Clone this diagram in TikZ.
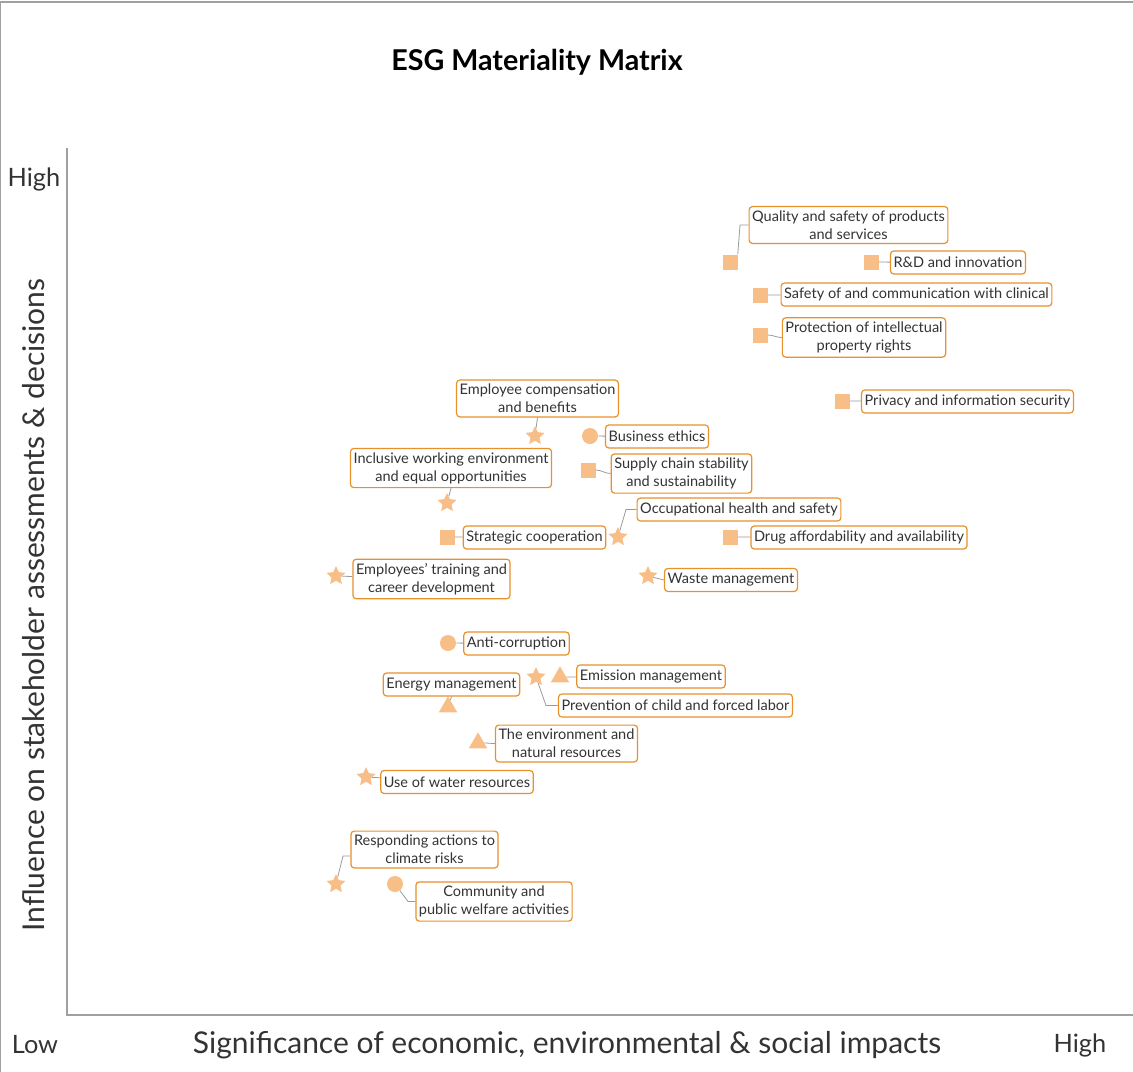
\documentclass[tikz,border=0pt]{standalone}
\usepackage{fontspec}
\setmainfont{Lato}
\usetikzlibrary{shapes.geometric}
\definecolor{markfill}{HTML}{F8BE87}
\definecolor{boxedge}{HTML}{E8912A}
\definecolor{linkgrey}{HTML}{9A9A9A}
\definecolor{axisgrey}{HTML}{A0A0A0}
\definecolor{ink}{HTML}{333333}
\begin{document}
\begin{tikzpicture}[x=0.75pt,y=-0.75pt,
  lbl/.style={draw=boxedge, line width=0.9pt, rounded corners=2.5pt, fill=white,
    text=ink, font=\fontsize{10.9}{13.5}\selectfont, align=center,
    inner xsep=2.3pt, inner ysep=3pt, minimum height=17.25pt},
  sq/.style={rectangle, fill=markfill, minimum size=11.25pt, inner sep=0pt},
  dot/.style={circle, fill=markfill, minimum size=12pt, inner sep=0pt},
  st/.style={star, star points=5, star point ratio=2.1, fill=markfill, minimum size=15pt, inner sep=0pt},
  tri/.style={regular polygon, regular polygon sides=3, fill=markfill, minimum size=16pt, inner sep=0pt},
  conn/.style={draw=linkgrey, line width=0.6pt},
  axislbl/.style={text=ink, font=\fontsize{19}{22}\selectfont},
  axistitle/.style={text=ink, font=\fontsize{22.5}{26}\selectfont},
]
\useasboundingbox (0,0) rectangle (1133,1072);
% outer frame and axes
\draw[axisgrey, line width=0.8pt] (0.5,1072) -- (0.5,2) -- (1133,2);
\draw[axisgrey, line width=0.8pt] (67,148) -- (67,1015) -- (1133,1015);

% title and axis labels
\node[text=black, font=\fontsize{21.5}{24}\selectfont\bfseries] (title) at (537,62) {ESG Materiality Matrix};
\node[axislbl] (yhigh) at (34,179) {High};
\node[axislbl] (xlow) at (35,1045) {Low};
\node[axislbl] (xhigh) at (1080,1045) {High};
\node[axistitle] (xtitle) at (567,1045) {Significance of economic, environmental \& social impacts};
\node[axistitle, rotate=90] (ytitle) at (34,605) {Influence on stakeholder assessments \& decisions};

% markers
\node[sq] (m1) at (730,262) {};
\node[sq] (m2) at (871,262) {};
\node[sq] (m3) at (760,295) {};
\node[sq] (m4) at (760,335) {};
\node[sq] (m5) at (842,401) {};
\node[st] (m6) at (535,436) {};
\node[dot] (m7) at (590,436) {};
\node[st] (m8) at (447,503) {};
\node[sq] (m9) at (588,470) {};
\node[st] (m10) at (618,537) {};
\node[sq] (m11) at (447,537) {};
\node[sq] (m12) at (730,537) {};
\node[st] (m13) at (336,576) {};
\node[st] (m14) at (648,576) {};
\node[dot] (m15) at (448,643) {};
\node[tri] (m16) at (560,677) {};
\node[tri] (m17) at (448,707) {};
\node[st] (m18) at (536,677) {};
\node[tri] (m19) at (478,743) {};
\node[st] (m20) at (366,777) {};
\node[st] (m21) at (336,884) {};
\node[dot] (m22) at (395,884) {};

% labels
\node[lbl] (b1) at (848.5,225) {Quality and safety of products\\and services};
\node[lbl] (b2) at (958,262.5) {R\&D and innovation};
\node[lbl] (b3) at (916.5,294.5) {Safety of and communication with clinical};
\node[lbl] (b4) at (864,337.5) {Protection of intellectual\\property rights};
\node[lbl] (b5) at (967.5,401.5) {Privacy and information security};
\node[lbl] (b6) at (537.5,398.5) {Employee compensation\\and benefits};
\node[lbl] (b7) at (657,436.5) {Business ethics};
\node[lbl] (b8) at (451,468) {Inclusive working environment\\and equal opportunities};
\node[lbl] (b9) at (681.5,473.5) {Supply chain stability\\and sustainability};
\node[lbl] (b10) at (739,509.5) {Occupational health and safety};
\node[lbl] (b11) at (534.5,537.5) {Strategic cooperation};
\node[lbl] (b12) at (859,537.5) {Drug affordability and availability};
\node[lbl] (b13) at (431.5,579) {Employees’ training and\\career development};
\node[lbl] (b14) at (731,580) {Waste management};
\node[lbl] (b15) at (516.5,643.5) {Anti-corruption};
\node[lbl] (b16) at (651,676.5) {Emission management};
\node[lbl] (b17) at (451.5,684.5) {Energy management};
\node[lbl] (b18) at (675.5,705.5) {Prevention of child and forced labor};
\node[lbl] (b19) at (566.5,743.5) {The environment and\\natural resources};
\node[lbl] (b20) at (457,782) {Use of water resources};
\node[lbl] (b21) at (424.5,849.5) {Responding actions to\\climate risks};
\node[lbl] (b22) at (494,901.5) {Community and\\public welfare activities};

% bend points of the leader lines
\coordinate (k1) at (740,225);
\coordinate (k10) at (626,509.5);
\coordinate (k18) at (546,705.5);
\coordinate (k21) at (343,856);
\coordinate (k22) at (408,901.5);

% leader lines
\draw[conn] (m1.north east) -- (k1) -- (b1.west);
\draw[conn] (m2) -- (b2);
\draw[conn] (m3) -- (b3);
\draw[conn] (m4.east) to[out=0,in=180] (b4.west);
\draw[conn] (m5) -- (b5);
\draw[conn] (b6.south) -- (m6);
\draw[conn] (m7) -- (b7);
\draw[conn] (b8.south) -- (m8);
\draw[conn] (m9.east) to[out=0,in=180] (b9.west);
\draw[conn] (m10) -- (k10) -- (b10.west);
\draw[conn] (m11) -- (b11);
\draw[conn] (m12) -- (b12);
\draw[conn] (m13) -- (b13);
\draw[conn] (m14) -- (b14.west);
\draw[conn] (m15) -- (b15);
\draw[conn] (m16) -- (b16);
\draw[conn] (b17.south) -- (m17);
\draw[conn] (m18) -- (k18) -- (b18.west);
\draw[conn] (m19.east) to[out=0,in=180] (b19.west);
\draw[conn] (m20) -- (b20);
\draw[conn] (m21) -- (k21) -- (b21.west|-k21);
\draw[conn] (m22) -- (k22) -- (b22.west);
\end{tikzpicture}
\end{document}
